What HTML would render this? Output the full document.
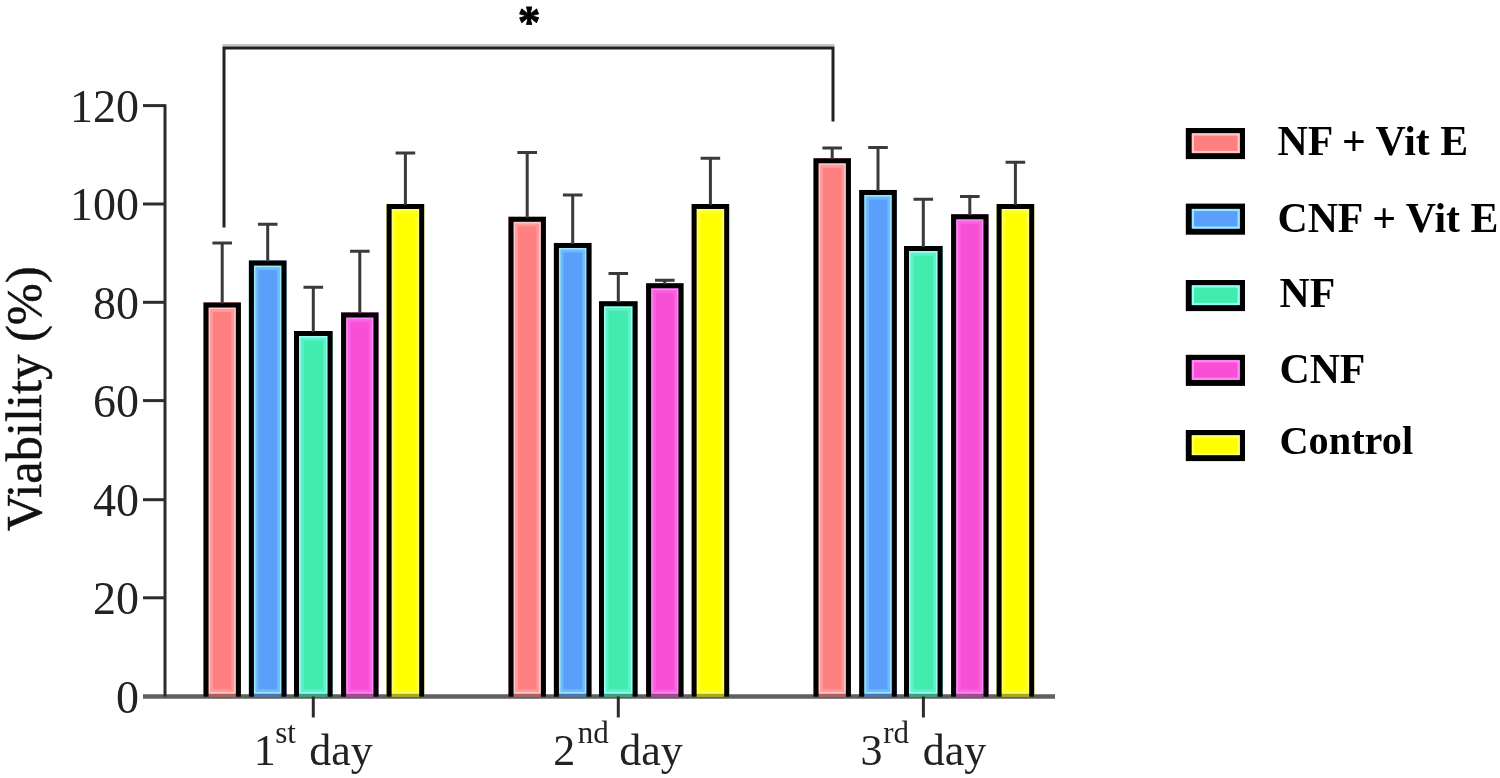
<!DOCTYPE html>
<html lang="en">
<head>
<meta charset="utf-8">
<title>Viability chart</title>
<style>
html,body{margin:0;padding:0;background:#fff;}
body{width:1500px;height:778px;overflow:hidden;}
svg{display:block;filter:blur(0.7px);font-family:"Liberation Serif","Times New Roman",serif;}
</style>
</head>
<body>
<svg width="1500" height="778" viewBox="0 0 1500 778">
<rect width="1500" height="778" fill="#ffffff"/>

<path d="M143 696.5 H1055" stroke-width="4.6" stroke="#606060" fill="none"/>
<g id="bars">
<rect x="203.5" y="302.4" width="37.4" height="394.4" fill="#FF8080"/>
<rect x="210.80" y="309.70" width="22.80" height="381.80" fill="none" stroke="#FFD0D0" stroke-width="4.4" opacity="0.32"/>
<rect x="209.30" y="308.20" width="25.80" height="384.70" fill="none" stroke="#FFD0D0" stroke-width="1.7" opacity="0.85"/>
<rect x="203.5" y="693.8" width="37.4" height="3.0" fill="#404040" opacity="0.45"/>
<path d="M206.00 696.8 V304.90 H238.40 V696.8" fill="none" stroke="#000" stroke-width="5.0"/>
<path d="M222.2 303.4 V243.0 M212.4 243.0 H232.0" fill="none" stroke="#3a3a3a" stroke-width="3"/>
<rect x="248.9" y="260.6" width="37.6" height="436.2" fill="#5AA0FA"/>
<rect x="256.20" y="267.90" width="23.00" height="423.60" fill="none" stroke="#A0F0FF" stroke-width="4.4" opacity="0.32"/>
<rect x="254.70" y="266.40" width="26.00" height="426.50" fill="none" stroke="#A0F0FF" stroke-width="1.7" opacity="0.85"/>
<rect x="248.9" y="693.8" width="37.6" height="3.0" fill="#404040" opacity="0.45"/>
<path d="M251.40 696.8 V263.10 H284.00 V696.8" fill="none" stroke="#000" stroke-width="5.0"/>
<path d="M267.7 261.6 V224.3 M257.9 224.3 H277.5" fill="none" stroke="#3a3a3a" stroke-width="3"/>
<rect x="294.0" y="331.0" width="38.6" height="365.8" fill="#42ECAE"/>
<rect x="301.30" y="338.30" width="24.00" height="353.20" fill="none" stroke="#A0FFFF" stroke-width="4.4" opacity="0.32"/>
<rect x="299.80" y="336.80" width="27.00" height="356.10" fill="none" stroke="#A0FFFF" stroke-width="1.7" opacity="0.85"/>
<rect x="294.0" y="693.8" width="38.6" height="3.0" fill="#404040" opacity="0.45"/>
<path d="M296.50 696.8 V333.50 H330.10 V696.8" fill="none" stroke="#000" stroke-width="5.0"/>
<path d="M313.3 332.0 V287.3 M303.5 287.3 H323.1" fill="none" stroke="#3a3a3a" stroke-width="3"/>
<rect x="341.1" y="312.4" width="37.4" height="384.4" fill="#F850D4"/>
<rect x="348.40" y="319.70" width="22.80" height="371.80" fill="none" stroke="#FF90FF" stroke-width="4.4" opacity="0.32"/>
<rect x="346.90" y="318.20" width="25.80" height="374.70" fill="none" stroke="#FF90FF" stroke-width="1.7" opacity="0.85"/>
<rect x="341.1" y="693.8" width="37.4" height="3.0" fill="#404040" opacity="0.45"/>
<path d="M343.60 696.8 V314.90 H376.00 V696.8" fill="none" stroke="#000" stroke-width="5.0"/>
<path d="M359.8 313.4 V251.2 M350.0 251.2 H369.6" fill="none" stroke="#3a3a3a" stroke-width="3"/>
<rect x="386.6" y="203.9" width="37.6" height="492.9" fill="#FFFF00"/>
<rect x="393.90" y="211.20" width="23.00" height="480.30" fill="none" stroke="#FFFF70" stroke-width="4.4" opacity="0.32"/>
<rect x="392.40" y="209.70" width="26.00" height="483.20" fill="none" stroke="#FFFF70" stroke-width="1.7" opacity="0.85"/>
<rect x="386.6" y="693.8" width="37.6" height="3.0" fill="#404040" opacity="0.45"/>
<path d="M389.10 696.8 V206.40 H421.70 V696.8" fill="none" stroke="#000" stroke-width="5.0"/>
<path d="M405.4 204.9 V153.0 M395.6 153.0 H415.2" fill="none" stroke="#3a3a3a" stroke-width="3"/>
<rect x="508.5" y="216.8" width="37.4" height="480.0" fill="#FF8080"/>
<rect x="515.80" y="224.10" width="22.80" height="467.40" fill="none" stroke="#FFD0D0" stroke-width="4.4" opacity="0.32"/>
<rect x="514.30" y="222.60" width="25.80" height="470.30" fill="none" stroke="#FFD0D0" stroke-width="1.7" opacity="0.85"/>
<rect x="508.5" y="693.8" width="37.4" height="3.0" fill="#404040" opacity="0.45"/>
<path d="M511.00 696.8 V219.30 H543.40 V696.8" fill="none" stroke="#000" stroke-width="5.0"/>
<path d="M527.2 217.8 V152.5 M517.4 152.5 H537.0" fill="none" stroke="#3a3a3a" stroke-width="3"/>
<rect x="553.9" y="242.9" width="37.6" height="453.9" fill="#5AA0FA"/>
<rect x="561.20" y="250.20" width="23.00" height="441.30" fill="none" stroke="#A0F0FF" stroke-width="4.4" opacity="0.32"/>
<rect x="559.70" y="248.70" width="26.00" height="444.20" fill="none" stroke="#A0F0FF" stroke-width="1.7" opacity="0.85"/>
<rect x="553.9" y="693.8" width="37.6" height="3.0" fill="#404040" opacity="0.45"/>
<path d="M556.40 696.8 V245.40 H589.00 V696.8" fill="none" stroke="#000" stroke-width="5.0"/>
<path d="M572.7 243.9 V194.9 M562.9 194.9 H582.5" fill="none" stroke="#3a3a3a" stroke-width="3"/>
<rect x="599.0" y="301.3" width="38.6" height="395.5" fill="#42ECAE"/>
<rect x="606.30" y="308.60" width="24.00" height="382.90" fill="none" stroke="#A0FFFF" stroke-width="4.4" opacity="0.32"/>
<rect x="604.80" y="307.10" width="27.00" height="385.80" fill="none" stroke="#A0FFFF" stroke-width="1.7" opacity="0.85"/>
<rect x="599.0" y="693.8" width="38.6" height="3.0" fill="#404040" opacity="0.45"/>
<path d="M601.50 696.8 V303.80 H635.10 V696.8" fill="none" stroke="#000" stroke-width="5.0"/>
<path d="M618.3 302.3 V273.5 M608.5 273.5 H628.1" fill="none" stroke="#3a3a3a" stroke-width="3"/>
<rect x="646.1" y="283.3" width="37.4" height="413.5" fill="#F850D4"/>
<rect x="653.40" y="290.60" width="22.80" height="400.90" fill="none" stroke="#FF90FF" stroke-width="4.4" opacity="0.32"/>
<rect x="651.90" y="289.10" width="25.80" height="403.80" fill="none" stroke="#FF90FF" stroke-width="1.7" opacity="0.85"/>
<rect x="646.1" y="693.8" width="37.4" height="3.0" fill="#404040" opacity="0.45"/>
<path d="M648.60 696.8 V285.80 H681.00 V696.8" fill="none" stroke="#000" stroke-width="5.0"/>
<path d="M664.8 284.3 V280.2 M655.0 280.2 H674.6" fill="none" stroke="#3a3a3a" stroke-width="3"/>
<rect x="691.6" y="203.9" width="37.6" height="492.9" fill="#FFFF00"/>
<rect x="698.90" y="211.20" width="23.00" height="480.30" fill="none" stroke="#FFFF70" stroke-width="4.4" opacity="0.32"/>
<rect x="697.40" y="209.70" width="26.00" height="483.20" fill="none" stroke="#FFFF70" stroke-width="1.7" opacity="0.85"/>
<rect x="691.6" y="693.8" width="37.6" height="3.0" fill="#404040" opacity="0.45"/>
<path d="M694.10 696.8 V206.40 H726.70 V696.8" fill="none" stroke="#000" stroke-width="5.0"/>
<path d="M710.4 204.9 V158.3 M700.6 158.3 H720.2" fill="none" stroke="#3a3a3a" stroke-width="3"/>
<rect x="813.5" y="158.3" width="37.4" height="538.5" fill="#FF8080"/>
<rect x="820.80" y="165.60" width="22.80" height="525.90" fill="none" stroke="#FFD0D0" stroke-width="4.4" opacity="0.32"/>
<rect x="819.30" y="164.10" width="25.80" height="528.80" fill="none" stroke="#FFD0D0" stroke-width="1.7" opacity="0.85"/>
<rect x="813.5" y="693.8" width="37.4" height="3.0" fill="#404040" opacity="0.45"/>
<path d="M816.00 696.8 V160.80 H848.40 V696.8" fill="none" stroke="#000" stroke-width="5.0"/>
<path d="M832.2 159.3 V147.9 M822.4 147.9 H842.0" fill="none" stroke="#3a3a3a" stroke-width="3"/>
<rect x="859.2" y="189.9" width="37.6" height="506.9" fill="#5AA0FA"/>
<rect x="866.50" y="197.20" width="23.00" height="494.30" fill="none" stroke="#A0F0FF" stroke-width="4.4" opacity="0.32"/>
<rect x="865.00" y="195.70" width="26.00" height="497.20" fill="none" stroke="#A0F0FF" stroke-width="1.7" opacity="0.85"/>
<rect x="859.2" y="693.8" width="37.6" height="3.0" fill="#404040" opacity="0.45"/>
<path d="M861.70 696.8 V192.40 H894.30 V696.8" fill="none" stroke="#000" stroke-width="5.0"/>
<path d="M878.0 190.9 V147.4 M868.2 147.4 H887.8" fill="none" stroke="#3a3a3a" stroke-width="3"/>
<rect x="904.0" y="246.0" width="38.6" height="450.8" fill="#42ECAE"/>
<rect x="911.30" y="253.30" width="24.00" height="438.20" fill="none" stroke="#A0FFFF" stroke-width="4.4" opacity="0.32"/>
<rect x="909.80" y="251.80" width="27.00" height="441.10" fill="none" stroke="#A0FFFF" stroke-width="1.7" opacity="0.85"/>
<rect x="904.0" y="693.8" width="38.6" height="3.0" fill="#404040" opacity="0.45"/>
<path d="M906.50 696.8 V248.50 H940.10 V696.8" fill="none" stroke="#000" stroke-width="5.0"/>
<path d="M923.3 247.0 V199.3 M913.5 199.3 H933.1" fill="none" stroke="#3a3a3a" stroke-width="3"/>
<rect x="951.1" y="214.3" width="37.4" height="482.5" fill="#F850D4"/>
<rect x="958.40" y="221.60" width="22.80" height="469.90" fill="none" stroke="#FF90FF" stroke-width="4.4" opacity="0.32"/>
<rect x="956.90" y="220.10" width="25.80" height="472.80" fill="none" stroke="#FF90FF" stroke-width="1.7" opacity="0.85"/>
<rect x="951.1" y="693.8" width="37.4" height="3.0" fill="#404040" opacity="0.45"/>
<path d="M953.60 696.8 V216.80 H986.00 V696.8" fill="none" stroke="#000" stroke-width="5.0"/>
<path d="M969.8 215.3 V196.6 M960.0 196.6 H979.6" fill="none" stroke="#3a3a3a" stroke-width="3"/>
<rect x="996.6" y="203.9" width="37.6" height="492.9" fill="#FFFF00"/>
<rect x="1003.90" y="211.20" width="23.00" height="480.30" fill="none" stroke="#FFFF70" stroke-width="4.4" opacity="0.32"/>
<rect x="1002.40" y="209.70" width="26.00" height="483.20" fill="none" stroke="#FFFF70" stroke-width="1.7" opacity="0.85"/>
<rect x="996.6" y="693.8" width="37.6" height="3.0" fill="#404040" opacity="0.45"/>
<path d="M999.10 696.8 V206.40 H1031.70 V696.8" fill="none" stroke="#000" stroke-width="5.0"/>
<path d="M1015.4 204.9 V162.2 M1005.6 162.2 H1025.2" fill="none" stroke="#3a3a3a" stroke-width="3"/>
</g>
<g id="axes" stroke="#2c2c2c" fill="none">
<path d="M165 104.2 V696.5" stroke-width="3"/>
<path d="M143 597.8 H165" stroke-width="3"/>
<path d="M143 499.7 H165" stroke-width="3"/>
<path d="M143 400.6 H165" stroke-width="3"/>
<path d="M143 302.3 H165" stroke-width="3"/>
<path d="M143 204.0 H165" stroke-width="3"/>
<path d="M143 105.6 H165" stroke-width="3"/>
<path d="M313.3 696.5 V717.5" stroke-width="3"/>
<path d="M618.3 696.5 V717.5" stroke-width="3"/>
<path d="M923.4 696.5 V717.5" stroke-width="3"/>
</g>
<g id="ylabels" font-size="46" fill="#222" text-anchor="end">
<text x="139" y="712.5">0</text>
<text x="139" y="614.1">20</text>
<text x="139" y="516.0">40</text>
<text x="139" y="416.9">60</text>
<text x="139" y="318.6">80</text>
<text x="139" y="220.3">100</text>
<text x="139" y="121.9">120</text>
</g>
<text id="ytitle" transform="translate(41 398.7) rotate(-90)" font-size="50.5" fill="#111" stroke="#111" stroke-width="0.5" text-anchor="middle">Viability (%)</text>
<g id="xlabels" font-size="44" fill="#222" text-anchor="middle">
<text y="764.5"><tspan x="264.8">1</tspan><tspan x="275.2" font-size="31" dy="-21.2" text-anchor="start">st</tspan><tspan x="341.1" dy="21.2">day</tspan></text>
<text y="764.5"><tspan x="564.3">2</tspan><tspan x="577.8" font-size="31" dy="-21.2" text-anchor="start">nd</tspan><tspan x="651.1" dy="21.2">day</tspan></text>
<text y="764.5"><tspan x="871.5">3</tspan><tspan x="883.2" font-size="31" dy="-21.2" text-anchor="start">rd</tspan><tspan x="954.6" dy="21.2">day</tspan></text>
</g>
<path d="M222.5 45.3 H834.5" fill="none" stroke="#c4c4c4" stroke-width="2.4"/>
<path id="bracket" d="M224 227.5 V48 H833 V121.5" fill="none" stroke="#222" stroke-width="3"/>
<text id="star" x="529.1" y="38.1" font-size="45.5" font-weight="bold" text-anchor="middle" fill="#000" stroke="#000" stroke-width="0.9" stroke-linejoin="round">*</text>
<g id="legend" font-size="41" font-weight="bold" fill="#000">
<rect x="1185.8" y="128.0" width="59.2" height="31.1" fill="#000"/>
<rect x="1191.8" y="133.3" width="48" height="19.8" fill="#FF8080"/>
<rect x="1192.9" y="134.4" width="45.8" height="17.6" fill="none" stroke="#FFD0D0" stroke-width="2.2" opacity="0.9"/>
<text x="1277.5" y="154.9" font-size="41.8">NF + Vit E</text>
<rect x="1185.8" y="203.6" width="59.2" height="31.1" fill="#000"/>
<rect x="1191.8" y="208.9" width="48" height="19.8" fill="#5AA0FA"/>
<rect x="1192.9" y="210.0" width="45.8" height="17.6" fill="none" stroke="#A0F0FF" stroke-width="2.2" opacity="0.9"/>
<text x="1277.5" y="231.6" font-size="41.8">CNF + Vit E</text>
<rect x="1185.8" y="280.0" width="59.2" height="31.1" fill="#000"/>
<rect x="1191.8" y="285.3" width="48" height="19.8" fill="#42ECAE"/>
<rect x="1192.9" y="286.4" width="45.8" height="17.6" fill="none" stroke="#A0FFFF" stroke-width="2.2" opacity="0.9"/>
<text x="1279.5" y="306.6" font-size="41.8">NF</text>
<rect x="1185.8" y="354.8" width="59.2" height="31.1" fill="#000"/>
<rect x="1191.8" y="360.1" width="48" height="19.8" fill="#F850D4"/>
<rect x="1192.9" y="361.2" width="45.8" height="17.6" fill="none" stroke="#FF90FF" stroke-width="2.2" opacity="0.9"/>
<text x="1279.5" y="383.1" font-size="41.8">CNF</text>
<rect x="1185.8" y="430.0" width="59.2" height="31.1" fill="#000"/>
<rect x="1191.8" y="435.3" width="48" height="19.8" fill="#FFFF00"/>
<rect x="1192.9" y="436.4" width="45.8" height="17.6" fill="none" stroke="#FFFF70" stroke-width="2.2" opacity="0.9"/>
<text x="1279.5" y="454.2" font-size="40.3">Control</text>
</g>
</svg>
</body>
</html>
